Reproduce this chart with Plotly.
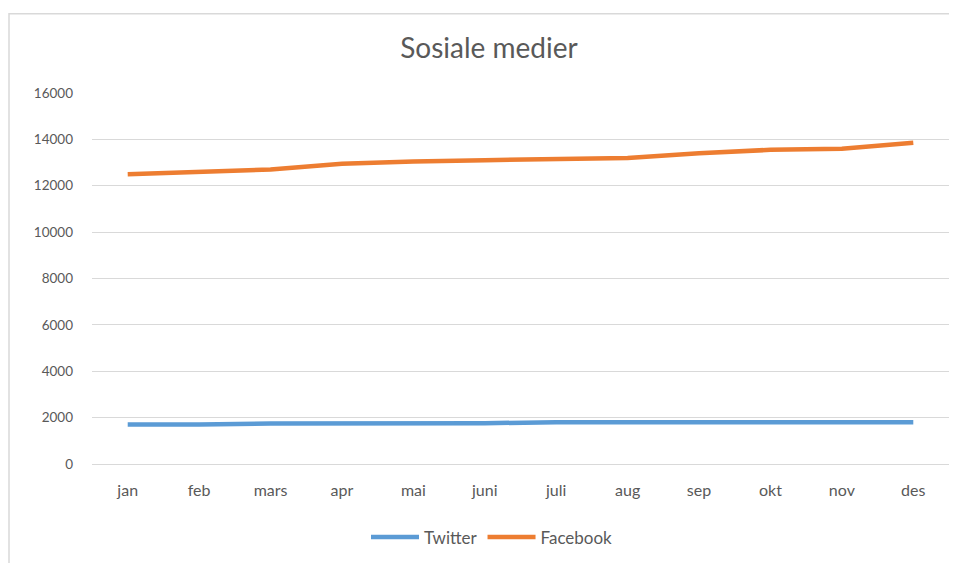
import plotly.graph_objects as go

months = ["jan", "feb", "mars", "apr", "mai", "juni", "juli", "aug", "sep", "okt", "nov", "des"]
twitter = [1700, 1700, 1750, 1750, 1750, 1760, 1800, 1800, 1800, 1800, 1800, 1800]
facebook = [12500, 12600, 12700, 12950, 13050, 13100, 13150, 13200, 13400, 13550, 13600, 13850]
yticks = [0, 2000, 4000, 6000, 8000, 10000, 12000, 14000, 16000]

FONT = "Lato, 'Open Sans', sans-serif"
TXT = "#595959"

fig = go.Figure()
fig.add_trace(go.Scatter(x=months, y=twitter, name="Twitter", mode="lines",
                         line=dict(color="#5B9BD5", width=4.5)))
fig.add_trace(go.Scatter(x=months, y=facebook, name="Facebook", mode="lines",
                         line=dict(color="#ED7D31", width=4.5)))

W, H = 949, 555
L, R, T, B = 84, 8, 85, 93.5
PW, PH = W - L - R, H - T - B
fig.update_layout(
    width=W, height=H,
    margin=dict(l=L, r=R, t=T, b=B),
    paper_bgcolor="white", plot_bgcolor="white",
    font=dict(family=FONT, color=TXT, size=13),
    title=dict(text="Sosiale medier", x=(489 - 8) / W, xref="container", xanchor="center",
               y=1 - 40 / H, yref="container", yanchor="middle",
               font=dict(size=28, color=TXT, family=FONT)),
    showlegend=True,
    legend=dict(orientation="h", x=(484 - L) / PW, xanchor="center",
                y=(H - B - 536) / PH, yanchor="middle",
                font=dict(size=17, color=TXT), itemwidth=48, bgcolor="rgba(0,0,0,0)"),
    xaxis=dict(type="category", range=[-0.5, 11.5], showgrid=False,
               showline=True, linecolor="#D9D9D9", linewidth=1,
               ticks="", tickfont=dict(size=16, color=TXT), ticklabelstandoff=12,
               fixedrange=True),
    yaxis=dict(range=[0, 16000], tickvals=yticks, ticktext=[str(v) for v in yticks],
               showgrid=True, gridcolor="#D9D9D9", gridwidth=1, zeroline=False,
               showline=False, ticks="", tickfont=dict(size=13.5, color=TXT),
               ticklabelstandoff=18, fixedrange=True),
    shapes=[dict(type="rect", xref="paper", yref="paper",
                 x0=(1 - L) / PW, x1=(W + 20 - L) / PW,
                 y0=(H - B - H - 20) / PH, y1=(H - B - 4.5) / PH,
                 line=dict(color="#D9D9D9", width=1.5), layer="below")],
)

fig.write_html("out.html")
